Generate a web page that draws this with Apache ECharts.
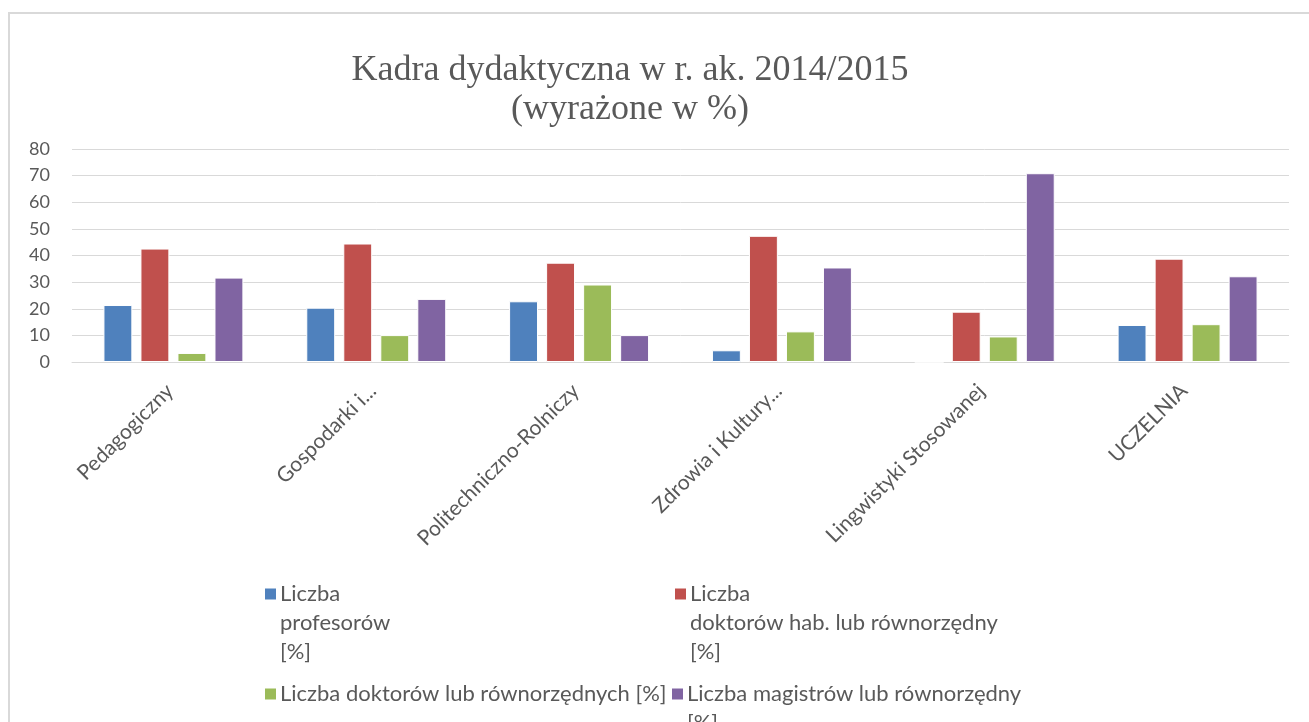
<!DOCTYPE html>
<html>
<head>
<meta charset="utf-8">
<script src="https://cdn.jsdelivr.net/npm/echarts@6/dist/echarts.min.js"></script>
<style>
html,body{margin:0;padding:0;background:#fff;}
#frame{position:absolute;left:8px;top:12px;width:1340px;height:720px;border:2px solid #d9d9d9;border-right:none;border-bottom:none;}
#chart{position:absolute;left:0;top:0;width:1309px;height:722px;}
</style>
</head>
<body>
<div id="frame"></div>
<div id="chart"></div>
<script>
// kategorie (wydzialy)
var categories = ['Pedagogiczny', 'Gospodarki i...', 'Politechniczno-Rolniczy', 'Zdrowia i Kultury...', 'Lingwistyki Stosowanej', 'UCZELNIA']
var seriesNames = [
  'Liczba profesorów [%]',
  'Liczba doktorów hab. lub równorzędny [%]',
  'Liczba doktorów lub równorzędnych [%]',
  'Liczba magistrów lub równorzędny [%]'
]
var legendTexts = [
  'Liczba\nprofesorów\n[%]',
  'Liczba\ndoktorów hab. lub równorzędny\n[%]',
  'Liczba doktorów lub równorzędnych [%]',
  'Liczba magistrów lub równorzędny\n[%]'
]
var profesorowie = [21.4, 20.4, 22.8, 4.4, 0, 13.9]
var doktorzyHab = [42.6, 44.5, 37.3, 47.4, 18.9, 38.8]
var doktorzy = [3.4, 10.1, 29.1, 11.5, 9.6, 14.2]
var magistrowie = [31.7, 23.7, 10.1, 35.5, 70.9, 32.2]
var yTicks = [0, 10, 20, 30, 40, 50, 60, 70, 80]

var colors = ['#4F81BD', '#C0504D', '#9BBB59', '#8064A2']
var values = [profesorowie, doktorzyHab, doktorzy, magistrowie]
var txt = '#595959'
var sans = 'Lato, "Open Sans", sans-serif'

var chart = echarts.init(document.getElementById('chart'))

// jedna legenda na kazda serie, zeby ulozyc je jak w oryginale
// ikonka ma stac przy pierwszej linii -> puste linie na gorze tekstu
var LH = 29
var legendPos = [[263, 594], [673, 594], [263, 694], [670, 694]]
var legends = seriesNames.map(function (n, i) {
  var lines = legendTexts[i].split('\n').length
  var pad = new Array(lines).join(' \n')
  var box = (2 * lines - 1) * LH
  return {
    left: legendPos[i][0],
    top: legendPos[i][1] - box / 2,
    padding: 0,
    data: [n],
    itemWidth: 13,
    itemHeight: 13,
    itemGap: 0,
    selectedMode: false,
    icon: 'rect',
    formatter: function () { return pad + legendTexts[i] },
    textStyle: {
      color: txt,
      fontFamily: sans,
      fontSize: 22,
      lineHeight: LH,
      padding: [0, 0, 0, -2]
    }
  }
})

chart.setOption({
  animation: false,
  color: colors,
  title: {
    text: 'Kadra dydaktyczna w r. ak. 2014/2015\n(wyrażone w %)',
    left: 625,
    textAlign: 'center',
    top: 46,
    textStyle: {
      fontFamily: '"Liberation Serif", "DejaVu Serif", serif',
      fontWeight: 'normal',
      fontSize: 36,
      lineHeight: 39,
      color: txt
    }
  },
  legend: legends,
  grid: {left: 72, right: 20, top: 149, bottom: 360},
  xAxis: {
    type: 'category',
    data: categories,
    axisLine: {lineStyle: {color: '#d9d9d9', width: 1}},
    axisTick: {show: false},
    axisLabel: {
      interval: 0,
      rotate: 45,
      margin: 22,
      padding: [31, 5, 0, 0],
      color: txt,
      fontFamily: sans,
      fontSize: 21
    }
  },
  yAxis: {
    type: 'value',
    min: yTicks[0],
    max: yTicks[yTicks.length - 1],
    interval: 10,
    axisLine: {show: false},
    axisTick: {show: false},
    splitLine: {lineStyle: {color: '#d9d9d9', width: 1}},
    axisLabel: {color: txt, fontFamily: sans, fontSize: 18, margin: 22}
  },
  series: seriesNames.map(function (n, i) {
    return {
      name: n,
      type: 'bar',
      data: values[i],
      barGap: '28%',
      barCategoryGap: '31%',
      itemStyle: {color: colors[i], borderColor: '#fff', borderWidth: 1}
    }
  })
})
</script>
</body>
</html>
